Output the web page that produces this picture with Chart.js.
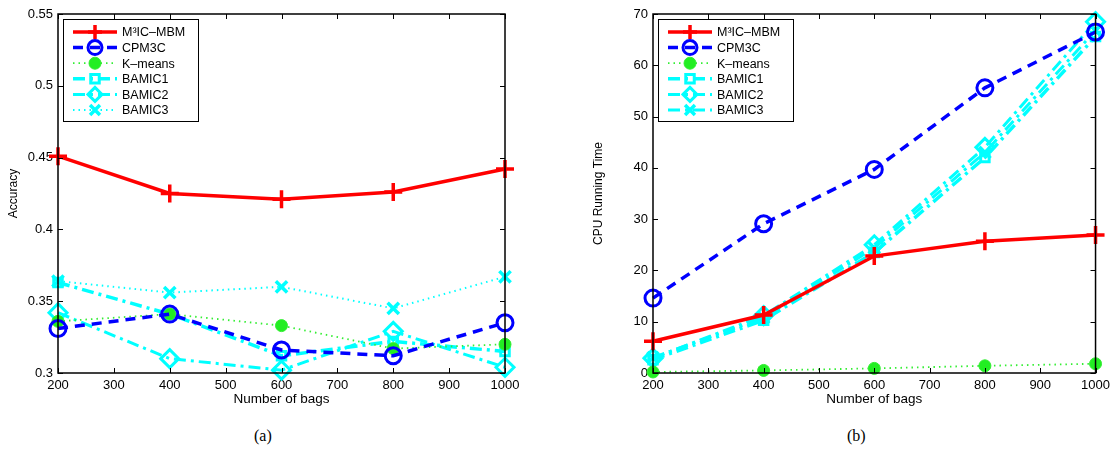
<!DOCTYPE html>
<html lang="en">
<head>
  <meta charset="UTF-8">
  <title>Accuracy and CPU running time</title>
  <script src="https://cdn.jsdelivr.net/npm/chart.js@4.4.1/dist/chart.umd.min.js"></script>
  <style>
    body { margin: 0; background: #fff; width: 1115px; height: 459px; position: relative; overflow: hidden; }
    .plot { position: absolute; top: 0; }
    .caption { position: absolute; top: 427px; font-family: "Liberation Serif", serif; font-size: 16px; color: #000; }
  </style>
</head>
<body>

  <div class="plot" id="boxA" style="left:0; width:560px; height:412px;"><canvas id="chartA"></canvas></div>
  <div class="plot" id="boxB" style="left:585px; width:530px; height:412px;"><canvas id="chartB"></canvas></div>
  <div class="caption" style="left:254px;">(a)</div>
  <div class="caption" style="left:847px;">(b)</div>

<script>
  // number of bags
  var bags = [200, 400, 600, 800, 1000];
  var seriesNames = ['M\u00B3IC\u2013MBM', 'CPM3C', 'K\u2013means', 'BAMIC1', 'BAMIC2', 'BAMIC3'];

  // (a) accuracy
  var accM3IC   = [0.451, 0.425, 0.421, 0.426, 0.442];
  var accCPM3C  = [0.331, 0.341, 0.316, 0.312, 0.335];
  var accKmeans = [0.336, 0.341, 0.333, 0.317, 0.320];
  var accBAMIC1 = [0.363, 0.341, 0.312, 0.322, 0.315];
  var accBAMIC2 = [0.342, 0.310, 0.302, 0.329, 0.304];
  var accBAMIC3 = [0.364, 0.356, 0.360, 0.345, 0.367];

  // (b) cpu running time
  var cpuM3IC   = [6.2, 11.3, 22.8, 25.7, 26.9];
  var cpuCPM3C  = [14.6, 29.1, 39.7, 55.6, 66.5];
  var cpuKmeans = [0.2, 0.5, 0.9, 1.4, 1.8];
  var cpuBAMIC1 = [2.6, 10.3, 23.5, 42.0, 65.6];
  var cpuBAMIC2 = [2.9, 11.2, 25.0, 44.0, 68.5];
  var cpuBAMIC3 = [3.0, 10.8, 24.4, 43.0, 66.8];

  var accTicks = [0.3, 0.35, 0.4, 0.45, 0.5, 0.55];
  var cpuTicks = [0, 10, 20, 30, 40, 50, 60, 70];
  var bagTicks = [200, 300, 400, 500, 600, 700, 800, 900, 1000];

  var FONT = '"Liberation Sans", Arial, sans-serif';

  // line / marker style of each series (same order as seriesNames)
  var styles = [
    { color: '#ff0000', dash: [],            width: 3.5, point: 'cross',    radius: 9, pw: 3.5, fill: 'transparent' },
    { color: '#0000ff', dash: [10, 7],       width: 3.5, point: 'circle',   radius: 8, pw: 3,   fill: 'transparent' },
    { color: '#33ee33', dash: [1.5, 4],      width: 1.8, point: 'circle',   radius: 6, pw: 1,   fill: '#22ee22' },
    { color: '#00ffff', dash: [12, 5, 3, 5], width: 3.5, point: 'rect',     radius: 6, pw: 3,   fill: 'transparent' },
    { color: '#00ffff', dash: [12, 5, 3, 5], width: 3,   point: 'rectRot',  radius: 9, pw: 3,   fill: 'transparent' },
    { color: '#00ffff', dash: [1.5, 4],      width: 2,   point: 'crossRot', radius: 8, pw: 3.5, fill: 'transparent' }
  ];

  function makeDatasets(lists, bamic3Dash) {
    return lists.map(function (vals, i) {
      var s = styles[i];
      var dash = s.dash, width = s.width;
      if (i === 5 && bamic3Dash) { dash = bamic3Dash; width = 3; }
      return {
        label: seriesNames[i],
        data: bags.map(function (b, k) { return { x: b, y: vals[k] }; }),
        borderColor: s.color,
        backgroundColor: s.color,
        borderWidth: width,
        borderDash: dash,
        pointStyle: s.point,
        pointRadius: s.radius,
        pointBorderWidth: s.pw,
        pointBackgroundColor: s.fill,
        pointBorderColor: s.color,
        tension: 0,
        clip: false
      };
    });
  }

  // box, inward ticks and the legend drawn like the matlab figure
  var matlabFrame = {
    id: 'matlabFrame',
    afterDraw: function (chart) {
      var ctx = chart.ctx, a = chart.chartArea;
      var xs = chart.scales.x, ys = chart.scales.y;
      ctx.save();
      ctx.setLineDash([]);
      ctx.strokeStyle = '#000';
      ctx.lineWidth = 1.5;
      ctx.strokeRect(a.left, a.top, a.right - a.left, a.bottom - a.top);
      ctx.lineWidth = 1;
      ctx.beginPath();
      xs.ticks.forEach(function (t) {
        var px = Math.round(xs.getPixelForValue(t.value)) + 0.5;
        ctx.moveTo(px, a.bottom); ctx.lineTo(px, a.bottom - 5);
        ctx.moveTo(px, a.top); ctx.lineTo(px, a.top + 5);
      });
      ys.ticks.forEach(function (t) {
        var py = Math.round(ys.getPixelForValue(t.value)) + 0.5;
        ctx.moveTo(a.left, py); ctx.lineTo(a.left + 5, py);
        ctx.moveTo(a.right, py); ctx.lineTo(a.right - 5, py);
      });
      ctx.stroke();

      // legend
      var lx = a.left + 5, ly = a.top + 5, lw = 135, lh = 102;
      ctx.fillStyle = '#fff';
      ctx.fillRect(lx, ly, lw, lh);
      ctx.strokeStyle = '#000';
      ctx.lineWidth = 1;
      ctx.strokeRect(lx + 0.5, ly + 0.5, lw, lh);
      ctx.font = '12.5px ' + FONT;
      ctx.textBaseline = 'middle';
      chart.data.datasets.forEach(function (ds, i) {
        var cy = ly + 13 + i * 15.6;
        ctx.strokeStyle = ds.borderColor;
        ctx.lineWidth = ds.borderWidth;
        ctx.setLineDash(ds.borderDash);
        ctx.beginPath();
        ctx.moveTo(lx + 10, cy); ctx.lineTo(lx + 54, cy);
        ctx.stroke();
        ctx.setLineDash([]);
        ctx.fillStyle = ds.pointBackgroundColor;
        ctx.strokeStyle = ds.pointBorderColor;
        ctx.lineWidth = ds.pointBorderWidth;
        Chart.helpers.drawPoint(ctx, { pointStyle: ds.pointStyle, radius: Math.min(ds.pointRadius, 7), rotation: 0, borderWidth: ds.pointBorderWidth }, lx + 32, cy);
        ctx.fillStyle = '#000';
        ctx.fillText(ds.label, lx + 59, cy + 1);
      });
      ctx.restore();
    }
  };

  function makeChart(canvasId, datasets, yMin, yMax, yTicks, yTitle, yWidth, rightPad) {
    return new Chart(document.getElementById(canvasId).getContext('2d'), {
      type: 'line',
      data: { datasets: datasets },
      plugins: [matlabFrame],
      options: {
        responsive: true,
        maintainAspectRatio: false,
        animation: false,
        layout: { padding: { top: 14, right: rightPad, bottom: 0, left: 0 } },
        plugins: { legend: { display: false }, tooltip: { enabled: false } },
        scales: {
          x: {
            type: 'linear',
            min: 200, max: 1000,
            afterBuildTicks: function (s) { s.ticks = bagTicks.map(function (v) { return { value: v }; }); },
            afterFit: function (s) { s.height = 39; },
            grid: { display: false, drawTicks: false },
            border: { display: false },
            ticks: {
              color: '#000', padding: 5, font: { family: FONT, size: 13 }, maxRotation: 0,
              callback: function (v) { return String(v); }
            },
            title: { display: true, text: 'Number of bags', color: '#000', padding: { top: 0, bottom: 5 }, font: { family: FONT, size: 13.5 } }
          },
          y: {
            min: yMin, max: yMax,
            afterBuildTicks: function (s) { s.ticks = yTicks.map(function (v) { return { value: v }; }); },
            afterFit: function (s) { s.width = yWidth; },
            grid: { display: false, drawTicks: false },
            border: { display: false },
            ticks: {
              color: '#000', padding: 5, font: { family: FONT, size: 13 },
              callback: function (v) { return String(Math.round(v * 100) / 100); }
            },
            title: { display: true, text: yTitle, color: '#000', padding: { top: 6, bottom: 0 }, font: { family: FONT, size: 12 } }
          }
        }
      }
    });
  }

  var chartA = makeChart('chartA',
    makeDatasets([accM3IC, accCPM3C, accKmeans, accBAMIC1, accBAMIC2, accBAMIC3]),
    0.3, 0.55, accTicks, 'Accuracy', 58, 55);

  var chartB = makeChart('chartB',
    makeDatasets([cpuM3IC, cpuCPM3C, cpuKmeans, cpuBAMIC1, cpuBAMIC2, cpuBAMIC3], [12, 5, 3, 5]),
    0, 70, cpuTicks, 'CPU Running Time', 68, 16);
</script>
</body>
</html>
